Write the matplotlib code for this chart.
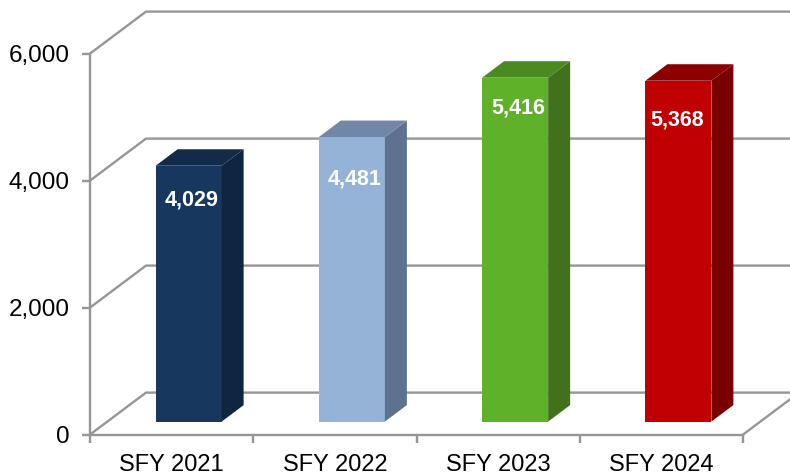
import numpy as np
import matplotlib
matplotlib.use('Agg')
import matplotlib.pyplot as plt

plt.rcParams['font.family'] = ['Liberation Sans', 'DejaVu Sans']

categories = ['SFY 2021', 'SFY 2022', 'SFY 2023', 'SFY 2024']
values = [4029, 4481, 5416, 5368]
yticks = [0, 2000, 4000, 6000]
front_colors = ['#17375E', '#95B3D7', '#60B12A', '#C00000']
side_colors = ['#10253F', '#5F7190', '#41711D', '#7A0000']
top_colors = ['#122B4A', '#7187A8', '#4B8A21', '#8E0000']
label_drop = [34, 42, 30, 39]  # px under the top of the bar
label_dx = [2.5, 2.5, 3, -1]   # px from the bar center

W, H = 790, 473
x0, y0 = 90, 434.6  # pixel position of the origin
px_x = 163.25     # px per category
px_y = 381 / 6000 # px per unit
gray = '#969696'
lw = 1.7

fig = plt.figure(figsize=(W / 100, H / 100), dpi=100)
ax = fig.add_axes([0, 0, 1, 1])
ax.set_xlim(-x0 / px_x, (W - x0) / px_x)
ax.set_ylim(-(H - y0) / px_y, y0 / px_y)
ax.patch.set_visible(False)

# depth offsets, px converted to data units
wall_dx, wall_dy = 56 / px_x, 42 / px_y
bar_dx, bar_dy = 22 / px_x, 16.5 / px_y
shift_x, shift_y = 17 / px_x, 13 / px_y
bar_w = 66 / px_x
xend = len(categories)

# walls and grid
for v in yticks:
    ax.plot([0, wall_dx, 5], [v, v + wall_dy, v + wall_dy], color=gray, lw=lw, zorder=1)
ax.plot([xend, xend + wall_dx], [0, wall_dy], color=gray, lw=lw, zorder=1)

# bars
centers = np.arange(len(categories)) + 0.5 + shift_x
ax.bar(centers, values, width=bar_w, bottom=shift_y, color=front_colors, zorder=3)
for i, v in enumerate(values):
    l = centers[i] - bar_w / 2
    r = centers[i] + bar_w / 2
    b = shift_y
    t = shift_y + v
    ax.fill([r, r + bar_dx, r + bar_dx, r], [b, b + bar_dy, t + bar_dy, t], color=side_colors[i], lw=0, zorder=3)
    ax.fill([l, l + bar_dx, r + bar_dx, r], [t, t + bar_dy, t + bar_dy, t], color=top_colors[i], lw=0, zorder=3)
    ax.text(centers[i] + label_dx[i] / px_x, t - label_drop[i] / px_y, format(v, ','), color='white',
            fontsize=15.5, fontweight='bold', ha='center', va='center', zorder=4)

# axes
for s in ['top', 'right']:
    ax.spines[s].set_visible(False)
ax.spines['left'].set_position(('data', 0))
ax.spines['left'].set_bounds(0, 6000)
ax.spines['bottom'].set_position(('data', 0))
ax.spines['bottom'].set_bounds(0, xend)
for s in ['left', 'bottom']:
    ax.spines[s].set_color(gray)
    ax.spines[s].set_linewidth(lw)
    ax.spines[s].set_zorder(2)

ax.set_yticks(yticks)
ax.set_yticklabels([format(v, ',') for v in yticks])
ax.set_xticks(np.arange(len(categories) + 1))
ax.set_xticklabels([''] * (len(categories) + 1))
ax.tick_params(axis='y', length=5.5, width=lw, color=gray, labelsize=17.5, labelcolor='black', pad=9)
ax.tick_params(axis='x', length=5.5, width=lw, color=gray)
for i, name in enumerate(categories):
    ax.text(i + 0.5, -19 / px_y, name, fontsize=17, color='black', ha='center', va='top')

fig.savefig('out.png', dpi=100)
